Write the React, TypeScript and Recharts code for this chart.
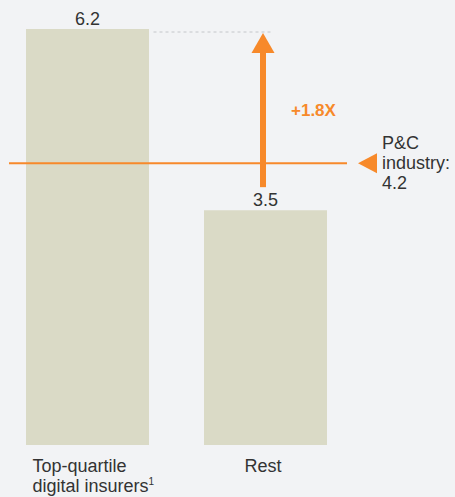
import { BarChart, Bar, XAxis, YAxis, ReferenceLine, LabelList } from "recharts";

const categories = ["Top-quartile\ndigital insurers", "Rest"];
const values = [6.2, 3.5];
const footnotes = ["1", ""];
const industryValue = 4.2;
const industryLabel = ["P&C", "industry:"];

const data = categories.map((name, i) => ({ name, value: values[i], note: footnotes[i] }));

const FONT = '"Liberation Sans", Arial, sans-serif';
const TEXT = "#333333";
const ORANGE = "#f7892a";
const BEIGE = "#dadac6";
const BAR = 123;

const CategoryTick = ({ x, y, payload, index }: any) => {
    const lines = String(payload.value).split("\n");
    const note = footnotes[index];
    const multi = lines.length > 1;
    const tx = multi ? x - BAR / 2 + 7 : x - 2;
    return (
        <text x={tx} y={y + 27} textAnchor={multi ? "start" : "middle"} fill={TEXT} fontSize={18} fontFamily={FONT}>
            {lines.map((l, i) => (
                <tspan key={i} x={tx} dy={i === 0 ? 0 : 20}>
                    {l}
                    {i === lines.length - 1 && note ? (
                        <tspan fontSize={10} dy={-7}>{note}</tspan>
                    ) : null}
                </tspan>
            ))}
        </text>
    );
};

const IndustryShape = (p: any) => {
    const { x1, x2, y1 } = p;
    const tx = x2 + 28;
    return (
        <g>
            <line x1={x1 + 11} x2={x2 - 7} y1={y1} y2={y1} stroke={ORANGE} strokeWidth={2} />
            <path d={`M${x2 + 4},${y1} L${x2 + 23},${y1 - 10} L${x2 + 23},${y1 + 10} Z`} fill={ORANGE} />
            <text x={tx} y={y1} fill={TEXT} fontSize={18} fontFamily={FONT} dominantBaseline="central">
                <tspan x={tx} dy={-20}>{industryLabel[0]}</tspan>
                <tspan x={tx} dy={20}>{industryLabel[1]}</tspan>
                <tspan x={tx} dy={20}>{industryValue}</tspan>
            </text>
        </g>
    );
};

const ArrowShape = (p: any) => {
    const x = p.x1 - 2;
    const bottom = p.y1 - 23;
    const tip = p.y2 + 4;
    const base = tip + 20;
    const ratio = values[0] / values[1];
    return (
        <g>
            <rect x={x - 3} y={base - 1} width={6} height={bottom - base + 1} fill={ORANGE} />
            <path d={`M${x},${tip} L${x + 11.5},${base} L${x - 11.5},${base} Z`} fill={ORANGE} />
            <text x={x + 28} y={(tip + bottom) / 2} fill={ORANGE} fontSize={17} fontWeight="bold" fontFamily={FONT} dominantBaseline="central">
                {`+${ratio.toFixed(1)}X`}
            </text>
        </g>
    );
};

const DashShape = (p: any) => {
    const y = p.y1 + 3;
    return <line x1={p.x1 + BAR / 2 + 5} x2={p.x2 + 6} y1={y} y2={y} stroke="#c4c6ca" strokeWidth={1} strokeDasharray="3 3" />;
};

export default function App() {
    return (
        <div style={{ position: "absolute", left: -2, top: 0, width: 457, height: 497, background: "#f2f3f5" }}>
            <BarChart
                width={457}
                height={497}
                data={data}
                margin={{ top: 29, right: 101, bottom: 0, left: 0 }}
                barCategoryGap={0}
            >
                <XAxis
                    dataKey="name"
                    axisLine={false}
                    tickLine={false}
                    tickSize={0}
                    tickMargin={0}
                    height={52}
                    interval={0}
                    tick={<CategoryTick />}
                />
                <YAxis hide domain={[0, values[0]]} />
                <Bar dataKey="value" fill={BEIGE} barSize={BAR} isAnimationActive={false}>
                    <LabelList dataKey="value" position="top" offset={4} fill={TEXT} fontSize={18} fontFamily={FONT} />
                </Bar>
                <ReferenceLine y={industryValue} shape={IndustryShape} />
                <ReferenceLine
                    segment={[{ x: categories[0], y: values[0] }, { x: categories[1], y: values[0] }]}
                    shape={DashShape}
                />
                <ReferenceLine
                    segment={[{ x: categories[1], y: values[1] }, { x: categories[1], y: values[0] }]}
                    shape={ArrowShape}
                />
            </BarChart>
        </div>
    );
}
